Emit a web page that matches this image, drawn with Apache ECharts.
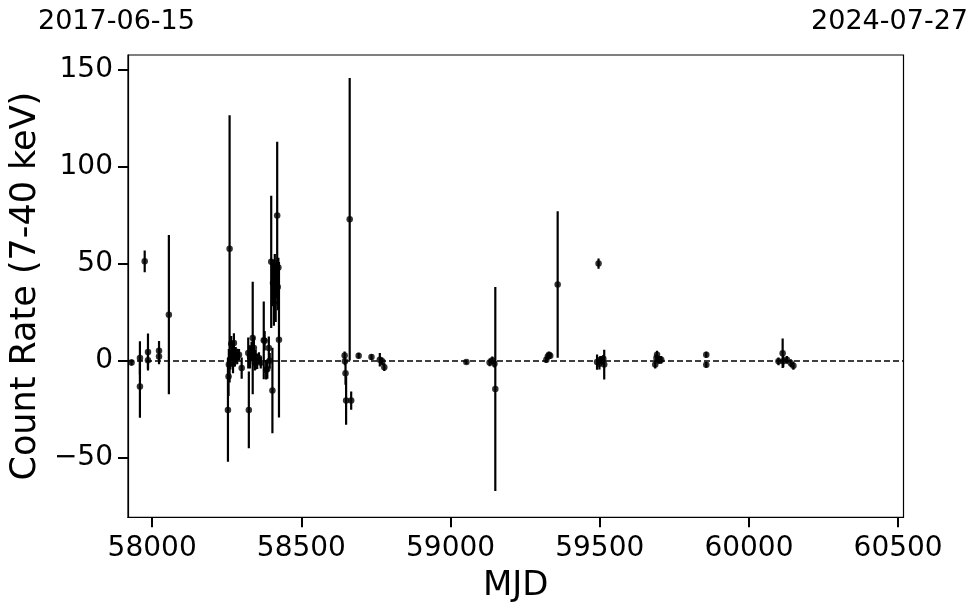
<!DOCTYPE html>
<html>
<head>
<meta charset="utf-8">
<script src="https://cdn.jsdelivr.net/npm/echarts@6/dist/echarts.min.js"></script>
<style>
html,body{margin:0;padding:0;background:#fff;}
#chart{width:980px;height:613px;}
</style>
</head>
<body>
<div id="chart"></div>
<script>
// ---- data ----
const mjd = [
  57931, 57959, 57959, 57975, 57986, 57986, 58023, 58023, 58056,
  58254, 58256, 58257, 58259.5, 58262, 58265, 58268, 58271, 58274, 58277, 58280, 58285, 58291, 58300,
  58322, 58324, 58328, 58333, 58337, 58341, 58344, 58347, 58352, 58358, 58364,
  58374, 58377, 58382, 58386, 58391, 58394, 58399, 58403, 58405, 58408, 58411, 58414, 58417, 58419, 58421, 58423, 58425,
  58645, 58646, 58648, 58650, 58662, 58667, 58692, 58735, 58763, 58771, 58778,
  59053, 59131, 59140, 59147, 59150,
  59321, 59326, 59330, 59334, 59359,
  59491, 59496, 59499, 59502, 59506, 59515, 59512,
  59686, 59690, 59692, 59697, 59700, 59706,
  59857, 59857,
  60099, 60113, 60115, 60127, 60140, 60149
];
const rate = [
  -0.9, 1.4, -13.3, 51.2, 4.5, 0.2, 5.2, 2.2, 23.7,
  -25.3, -8.1, -2, 57.6, 0.5, 8.8, 4, -1.5, 9.1, 1, 3.1, 2.2, 3.1, -3.8,
  4, -25.3, 2, 4.8, 11.7, 6.5, -1, 0.5, -0.3, 1.4, -1,
  10.5, 10.3, -4.6, -4.3, 6.5, 0, 50.9, -15.3, 40, 30, 45, 35, 42, 74.8, 38, 48, 10.8,
  2.7, -0.3, -6.4, -20.5, 72.8, -20.5, 2.6, 1.9, 0.5, -0.3, -3.3,
  -0.7, -0.9, 0.2, -1.5, -14.5,
  0.5, 2.2, 3.1, 2.6, 39.2,
  -0.7, 50, -1.5, 0.5, 0, -2, 1,
  -2, 1.4, 3.1, 0.5, 0.5, 0.5,
  3.1, -2.1,
  -0.3, 3.8, -0.3, 0.5, -1.2, -2.6
];
const err = [
  1.5, 8.6, 16, 5.6, 9.5, 4.5, 5, 4, 41,
  26.7, 10, 8, 68.8, 5, 4, 6, 5, 5, 4, 4, 4, 3, 5.5,
  8, 19.8, 6, 5, 29, 6, 4, 5, 4, 3, 3,
  20, 5, 5, 5, 6, 4, 34, 22, 12, 12, 10, 15, 10, 38, 12, 5, 40,
  2, 2, 6, 12.5, 72.7, 4.7, 1.5, 1.5, 3.5, 2, 2,
  1, 2, 2, 2, 52.5,
  1.5, 1.5, 1.5, 1.5, 37.7,
  3.9, 2.6, 3, 2, 2, 7.7, 2,
  2, 2, 2, 2, 2, 2,
  1.5, 1.5,
  2, 7.6, 3, 2, 2, 2
];
const xTicks = [58000, 58500, 59000, 59500, 60000, 60500];
const yTicks = [-50, 0, 50, 100, 150];
const xRange = [57919, 60518];
const yRange = [-80.6, 157.4];
const dateLabels = ['2017-06-15', '2024-07-27'];

// ---- chart ----
const points = mjd.map((m, i) => [m, rate[i]]);
const bars = mjd.map((m, i) => [m, rate[i] - err[i], rate[i] + err[i]]);
const FONT = 'DejaVu Sans';

const chart = echarts.init(document.getElementById('chart'), null, {renderer: 'canvas'});
chart.setOption({
  animation: false,
  backgroundColor: '#fff',
  textStyle: {fontFamily: FONT},
  grid: {left: 127.3, top: 55, right: 76.5, bottom: 95.7, show: true, borderColor: '#000', borderWidth: 1.2, backgroundColor: 'transparent'},
  graphic: [
    {type: 'text', left: 38, top: 8, style: {text: dateLabels[0], font: '27px "DejaVu Sans"', fill: '#000'}},
    {type: 'text', right: 12, top: 8, style: {text: dateLabels[1], font: '27px "DejaVu Sans"', fill: '#000'}}
  ],
  xAxis: {
    type: 'value', min: xRange[0], max: xRange[1],
    name: 'MJD', nameLocation: 'middle', nameGap: 52,
    nameTextStyle: {fontSize: 34, color: '#000', fontFamily: FONT},
    axisLine: {show: true, onZero: false, lineStyle: {color: '#000', width: 1.2}},
    axisTick: {show: true, inside: false, length: 10, lineStyle: {color: '#000', width: 2}, customValues: xTicks},
    axisLabel: {show: true, fontSize: 28, color: '#000', margin: 17, fontFamily: FONT, customValues: xTicks, formatter: v => String(v)},
    splitLine: {show: false}
  },
  yAxis: {
    type: 'value', min: yRange[0], max: yRange[1],
    name: 'Count Rate (7-40 keV)', nameLocation: 'middle', nameGap: 82,
    nameTextStyle: {fontSize: 35, color: '#000', fontFamily: FONT},
    axisLine: {show: true, onZero: false, lineStyle: {color: '#000', width: 1.2}},
    axisTick: {show: true, inside: false, length: 10, lineStyle: {color: '#000', width: 2}, customValues: yTicks},
    axisLabel: {show: true, fontSize: 28, color: '#000', margin: 15, fontFamily: FONT, customValues: yTicks, formatter: v => String(v).replace('-', '\u2212')},
    splitLine: {show: false}
  },
  series: [
    {
      type: 'custom',
      data: bars,
      clip: true,
      encode: {x: 0, y: [1, 2]},
      renderItem: function (params, api) {
        const x = api.value(0);
        const lo = api.coord([x, api.value(1)]);
        const hi = api.coord([x, api.value(2)]);
        return {
          type: 'line',
          shape: {x1: lo[0], y1: lo[1], x2: hi[0], y2: hi[1]},
          style: {stroke: '#000', lineWidth: 2.2}
        };
      },
      z: 2
    },
    {
      type: 'scatter',
      data: points,
      symbol: 'circle',
      symbolSize: 6.5,
      itemStyle: {color: '#000'},
      z: 3,
      markLine: {
        silent: true,
        symbol: ['none', 'none'],
        label: {show: false},
        lineStyle: {type: [6, 3], color: '#000', width: 1.5},
        data: [{yAxis: 0}]
      }
    }
  ]
});
</script>
</body>
</html>
